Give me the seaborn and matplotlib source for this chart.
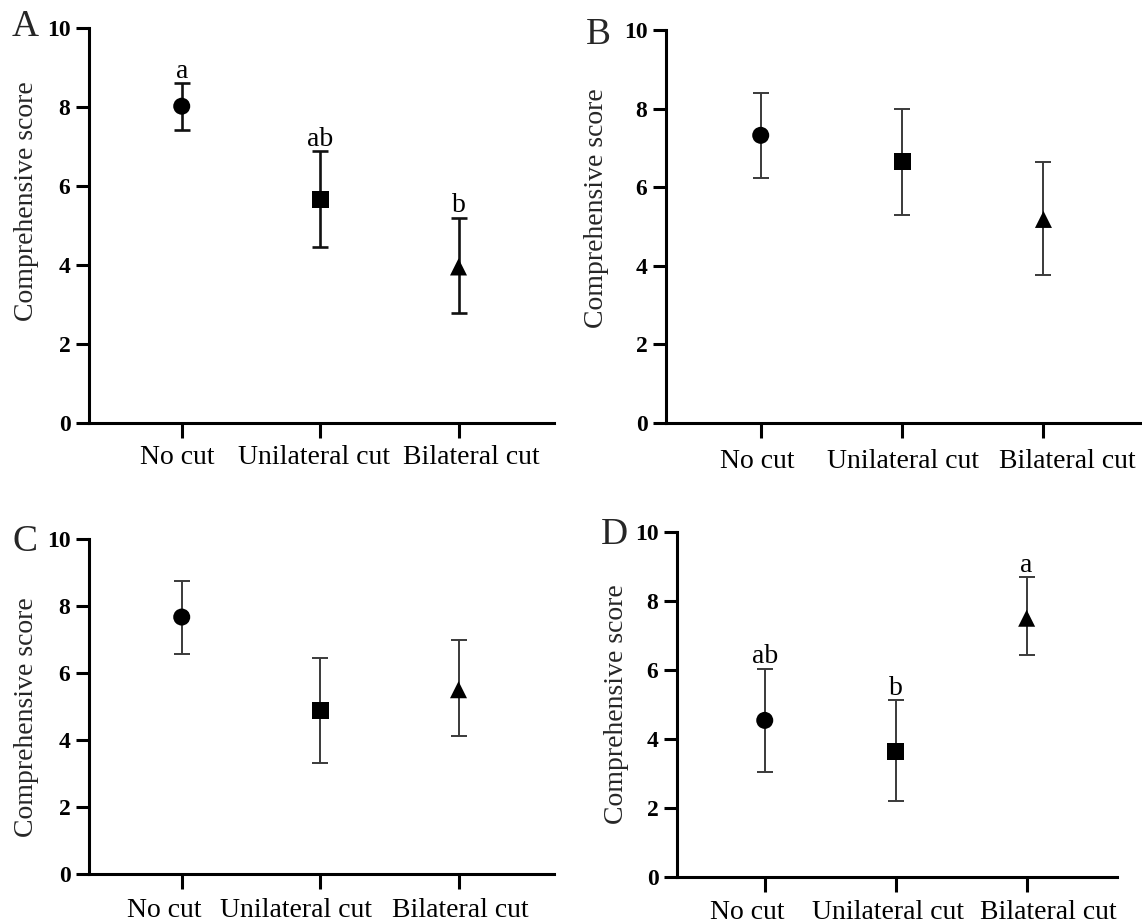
import matplotlib
matplotlib.use("Agg")
import matplotlib.pyplot as plt
import matplotlib.transforms as mtransforms
import seaborn as sns
import pandas as pd
import numpy as np

# ---------------- data ----------------
categories = ["No cut", "Unilateral cut", "Bilateral cut"]

mean_A = [8.02, 5.65, 3.95]
low_A = [7.43, 4.45, 2.78]
high_A = [8.60, 6.88, 5.20]
letters_A = ["a", "ab", "b"]

mean_B = [7.32, 6.65, 5.18]
low_B = [6.24, 5.30, 3.77]
high_B = [8.40, 8.00, 6.64]
letters_B = ["", "", ""]

mean_C = [7.67, 4.87, 5.50]
low_C = [6.58, 3.32, 4.12]
high_C = [8.76, 6.45, 6.98]
letters_C = ["", "", ""]

mean_D = [4.54, 3.65, 7.50]
low_D = [3.03, 2.19, 6.43]
high_D = [6.04, 5.12, 8.69]
letters_D = ["ab", "b", "a"]

panel_names = ["A", "B", "C", "D"]
y_label = "Comprehensive score"
y_ticks = [0, 2, 4, 6, 8, 10]

# ---------------- style ----------------
sns.set_theme(style="ticks")
plt.rcParams["font.family"] = ["Liberation Serif", "DejaVu Serif"]
plt.rcParams["axes.linewidth"] = 2.2

fig = plt.figure(figsize=(11.42, 9.24), dpi=100)
W, H = 1142.0, 924.0

def px_rect(x0, x1, ytop, ybot):
    return [x0 / W, 1 - ybot / H, (x1 - x0) / W, (ybot - ytop) / H]

panels = [
    dict(rect=px_rect(89, 554, 28, 423), mean=mean_A, low=low_A, high=high_A,
         letters=letters_A, ebw=1.9, ebc="#111111", lab=(-0.108, 0.562),
         xoff=[-4, -6, 13], xpad=5.0, tag=(12, 36)),
    dict(rect=px_rect(666, 1141, 30, 423), mean=mean_B, low=low_B, high=high_B,
         letters=letters_B, ebw=1.4, ebc="#3a3a3a", lab=(-0.12, 0.547),
         xoff=[-3, 1, 24], xpad=8.0, tag=(586, 44)),
    dict(rect=px_rect(89, 554, 539, 874), mean=mean_C, low=low_C, high=high_C,
         letters=letters_C, ebw=1.4, ebc="#3a3a3a", lab=(-0.108, 0.469),
         xoff=[-17, -24, 2], xpad=6.5, tag=(12, 551)),
    dict(rect=px_rect(677, 1117, 532, 877), mean=mean_D, low=low_D, high=high_D,
         letters=letters_D, ebw=1.4, ebc="#3a3a3a", lab=(-0.109, 0.5),
         xoff=[-17, -8, 22], xpad=5.5, tag=(601, 544)),
]

markers = ["o", "s", "^"]

for name, p in zip(panel_names, panels):
    ax = fig.add_axes(p["rect"])
    df = pd.DataFrame({"group": categories, "score": p["mean"]})
    sns.scatterplot(data=df, x="group", y="score", style="group",
                    markers=dict(zip(categories, markers)), color="black",
                    s=150, edgecolor="black", linewidth=0, legend=False,
                    ax=ax, zorder=3)
    pos = np.arange(len(categories))
    mean = np.array(p["mean"])
    yerr = np.vstack([mean - np.array(p["low"]), np.array(p["high"]) - mean])
    ax.errorbar(pos, mean, yerr=yerr, fmt="none", ecolor=p["ebc"],
                elinewidth=p["ebw"], capsize=6, capthick=p["ebw"], zorder=2)
    for i, letter in enumerate(p["letters"]):
        if letter:
            ax.annotate(letter, (pos[i], p["high"][i]), xytext=(0, 3.8),
                        textcoords="offset points", ha="center", va="baseline",
                        fontsize=20, color="black")
    ax.set_xlim(-0.67, 2.69)
    ax.set_ylim(0, 10)
    ax.set_yticks(y_ticks)
    ax.set_yticklabels([str(t) for t in y_ticks], fontweight="bold", fontsize=17)
    ax.set_xticks(pos)
    ax.set_xticklabels(categories, fontsize=20)
    ax.set_xlabel("")
    ax.set_ylabel(y_label, fontsize=20)
    ax.yaxis.set_label_coords(*p["lab"])
    ax.tick_params(axis="y", length=9.4, width=2.2, pad=4.0, colors="black")
    ax.tick_params(axis="x", length=11, width=2.2, pad=p["xpad"], colors="black")
    for lbl, dx in zip(ax.get_xticklabels(), p["xoff"]):
        lbl.set_transform(lbl.get_transform() +
                          mtransforms.ScaledTranslation(dx / 100.0, 0, fig.dpi_scale_trans))
    sns.despine(ax=ax)
    for s in ["left", "bottom"]:
        ax.spines[s].set_color("black")
        ax.spines[s].set_linewidth(2.2)
    ax.set_facecolor("white")
    fig.text(p["tag"][0] / W, 1 - p["tag"][1] / H, name, fontsize=27,
             ha="left", va="baseline")

fig.savefig("out.png", dpi=100, facecolor="white")
